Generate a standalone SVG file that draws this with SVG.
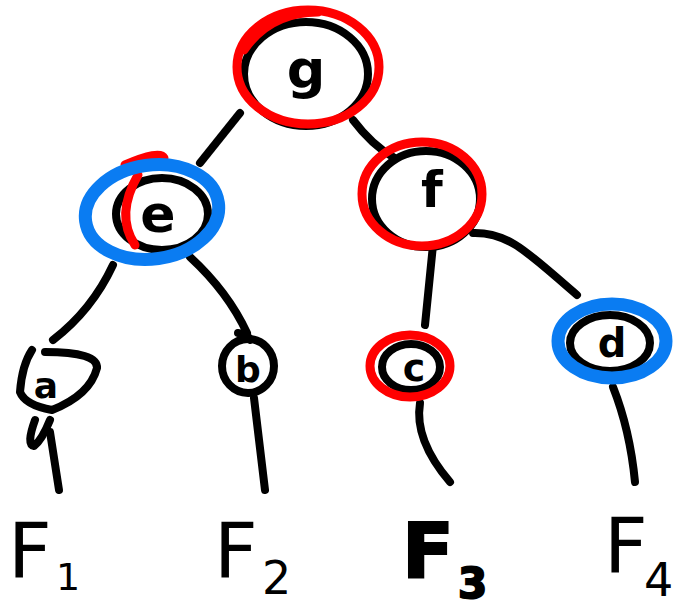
<svg xmlns="http://www.w3.org/2000/svg" width="694" height="613" viewBox="0 0 694 613">
<style>
.k{fill:none;stroke:#000;stroke-width:8;stroke-linecap:round;stroke-linejoin:round}
.r{fill:none;stroke:#ff0000;stroke-width:9;stroke-linecap:round}
.b{fill:none;stroke:#0a7cf2;stroke-width:13;stroke-linecap:round}
.lt{font-family:"DejaVu Sans",sans-serif;font-weight:bold;fill:#000;text-anchor:middle}
.F{font-family:"DejaVu Sans",sans-serif;fill:#000}
</style>
<rect width="694" height="613" fill="#fff"/>
<g id="connectors">
<path class="k" d="M240,113 L200,163"/>
<path class="k" d="M353,120 Q372,145 393,157"/>
<path class="k" d="M113,265 Q92,310 53,340"/>
<path class="k" d="M190,257 Q228,292 247,333"/>
<path class="k" d="M433,245 L425,325"/>
<path class="k" d="M473,233 C510,232 530,255 577,295"/>
<path class="k" d="M50,432 L59,490"/>
<path class="k" d="M254,398 L265,490"/>
<path class="k" d="M420,403 Q414,440 450,482"/>
<path class="k" d="M613,387 Q630,430 635,482"/>
</g>
<g id="node-g">
<ellipse class="k" cx="306" cy="74" rx="62" ry="52"/>
<ellipse class="r" cx="308" cy="67" rx="71" ry="57"/>
<path class="r" d="M244,50 Q270,12 318,12"/>
<text class="lt" x="306" y="88" font-size="54">g</text>
</g>
<g id="node-e">
<ellipse class="k" cx="162" cy="214" rx="46" ry="36"/>
<path class="r" d="M125,165 Q160,150 164,158 M138,175 Q115,215 135,245"/>
<ellipse class="b" cx="152" cy="212" rx="67" ry="47" transform="rotate(-8 152 212)"/>
<text class="lt" x="158" y="232" font-size="52">e</text>
</g>
<g id="node-f">
<ellipse class="k" cx="426" cy="199" rx="54" ry="48"/>
<ellipse class="r" cx="422" cy="194" rx="60" ry="52"/>
<text class="lt" x="432" y="207" font-size="50">f</text>
</g>
<g id="node-a">
<path class="k" d="M45,352 Q98,352 97,368 Q90,395 52,410 Q25,405 20,392 Q22,365 32,350"/>
<path class="k" d="M35,420 Q26,445 34,446 Q42,440 50,420"/>
<text class="lt" x="46" y="398" font-size="36">a</text>
</g>
<g id="node-b">
<ellipse class="k" cx="248" cy="366" rx="26" ry="27"/>
<path class="k" d="M238,333 Q248,334 250,340"/>
<text class="lt" x="248" y="382" font-size="36">b</text>
</g>
<g id="node-c">
<ellipse class="k" cx="411" cy="367" rx="29" ry="23"/>
<ellipse class="r" cx="410" cy="366" rx="40" ry="31" stroke-width="10"/>
<text class="lt" x="414" y="381" font-size="38">c</text>
</g>
<g id="node-d">
<ellipse class="k" cx="610" cy="343" rx="40" ry="28"/>
<ellipse class="b" cx="612" cy="341" rx="54" ry="37" stroke-width="14"/>
<text class="lt" x="612" y="357" font-size="40">d</text>
</g>
<g id="leaf-labels">
<text class="F" x="8" y="578" font-size="76">F<tspan x="56" y="590" font-size="38">1</tspan></text>
<text class="F" x="214" y="578" font-size="76">F<tspan x="262" y="594" font-size="46">2</tspan></text>
<text class="F" x="402" y="578" font-size="76" font-weight="bold" stroke="#000" stroke-width="2">F<tspan x="458" y="598" font-size="42">3</tspan></text>
<text class="F" x="604" y="573" font-size="76">F<tspan x="644" y="596" font-size="46">4</tspan></text>
</g>
</svg>
